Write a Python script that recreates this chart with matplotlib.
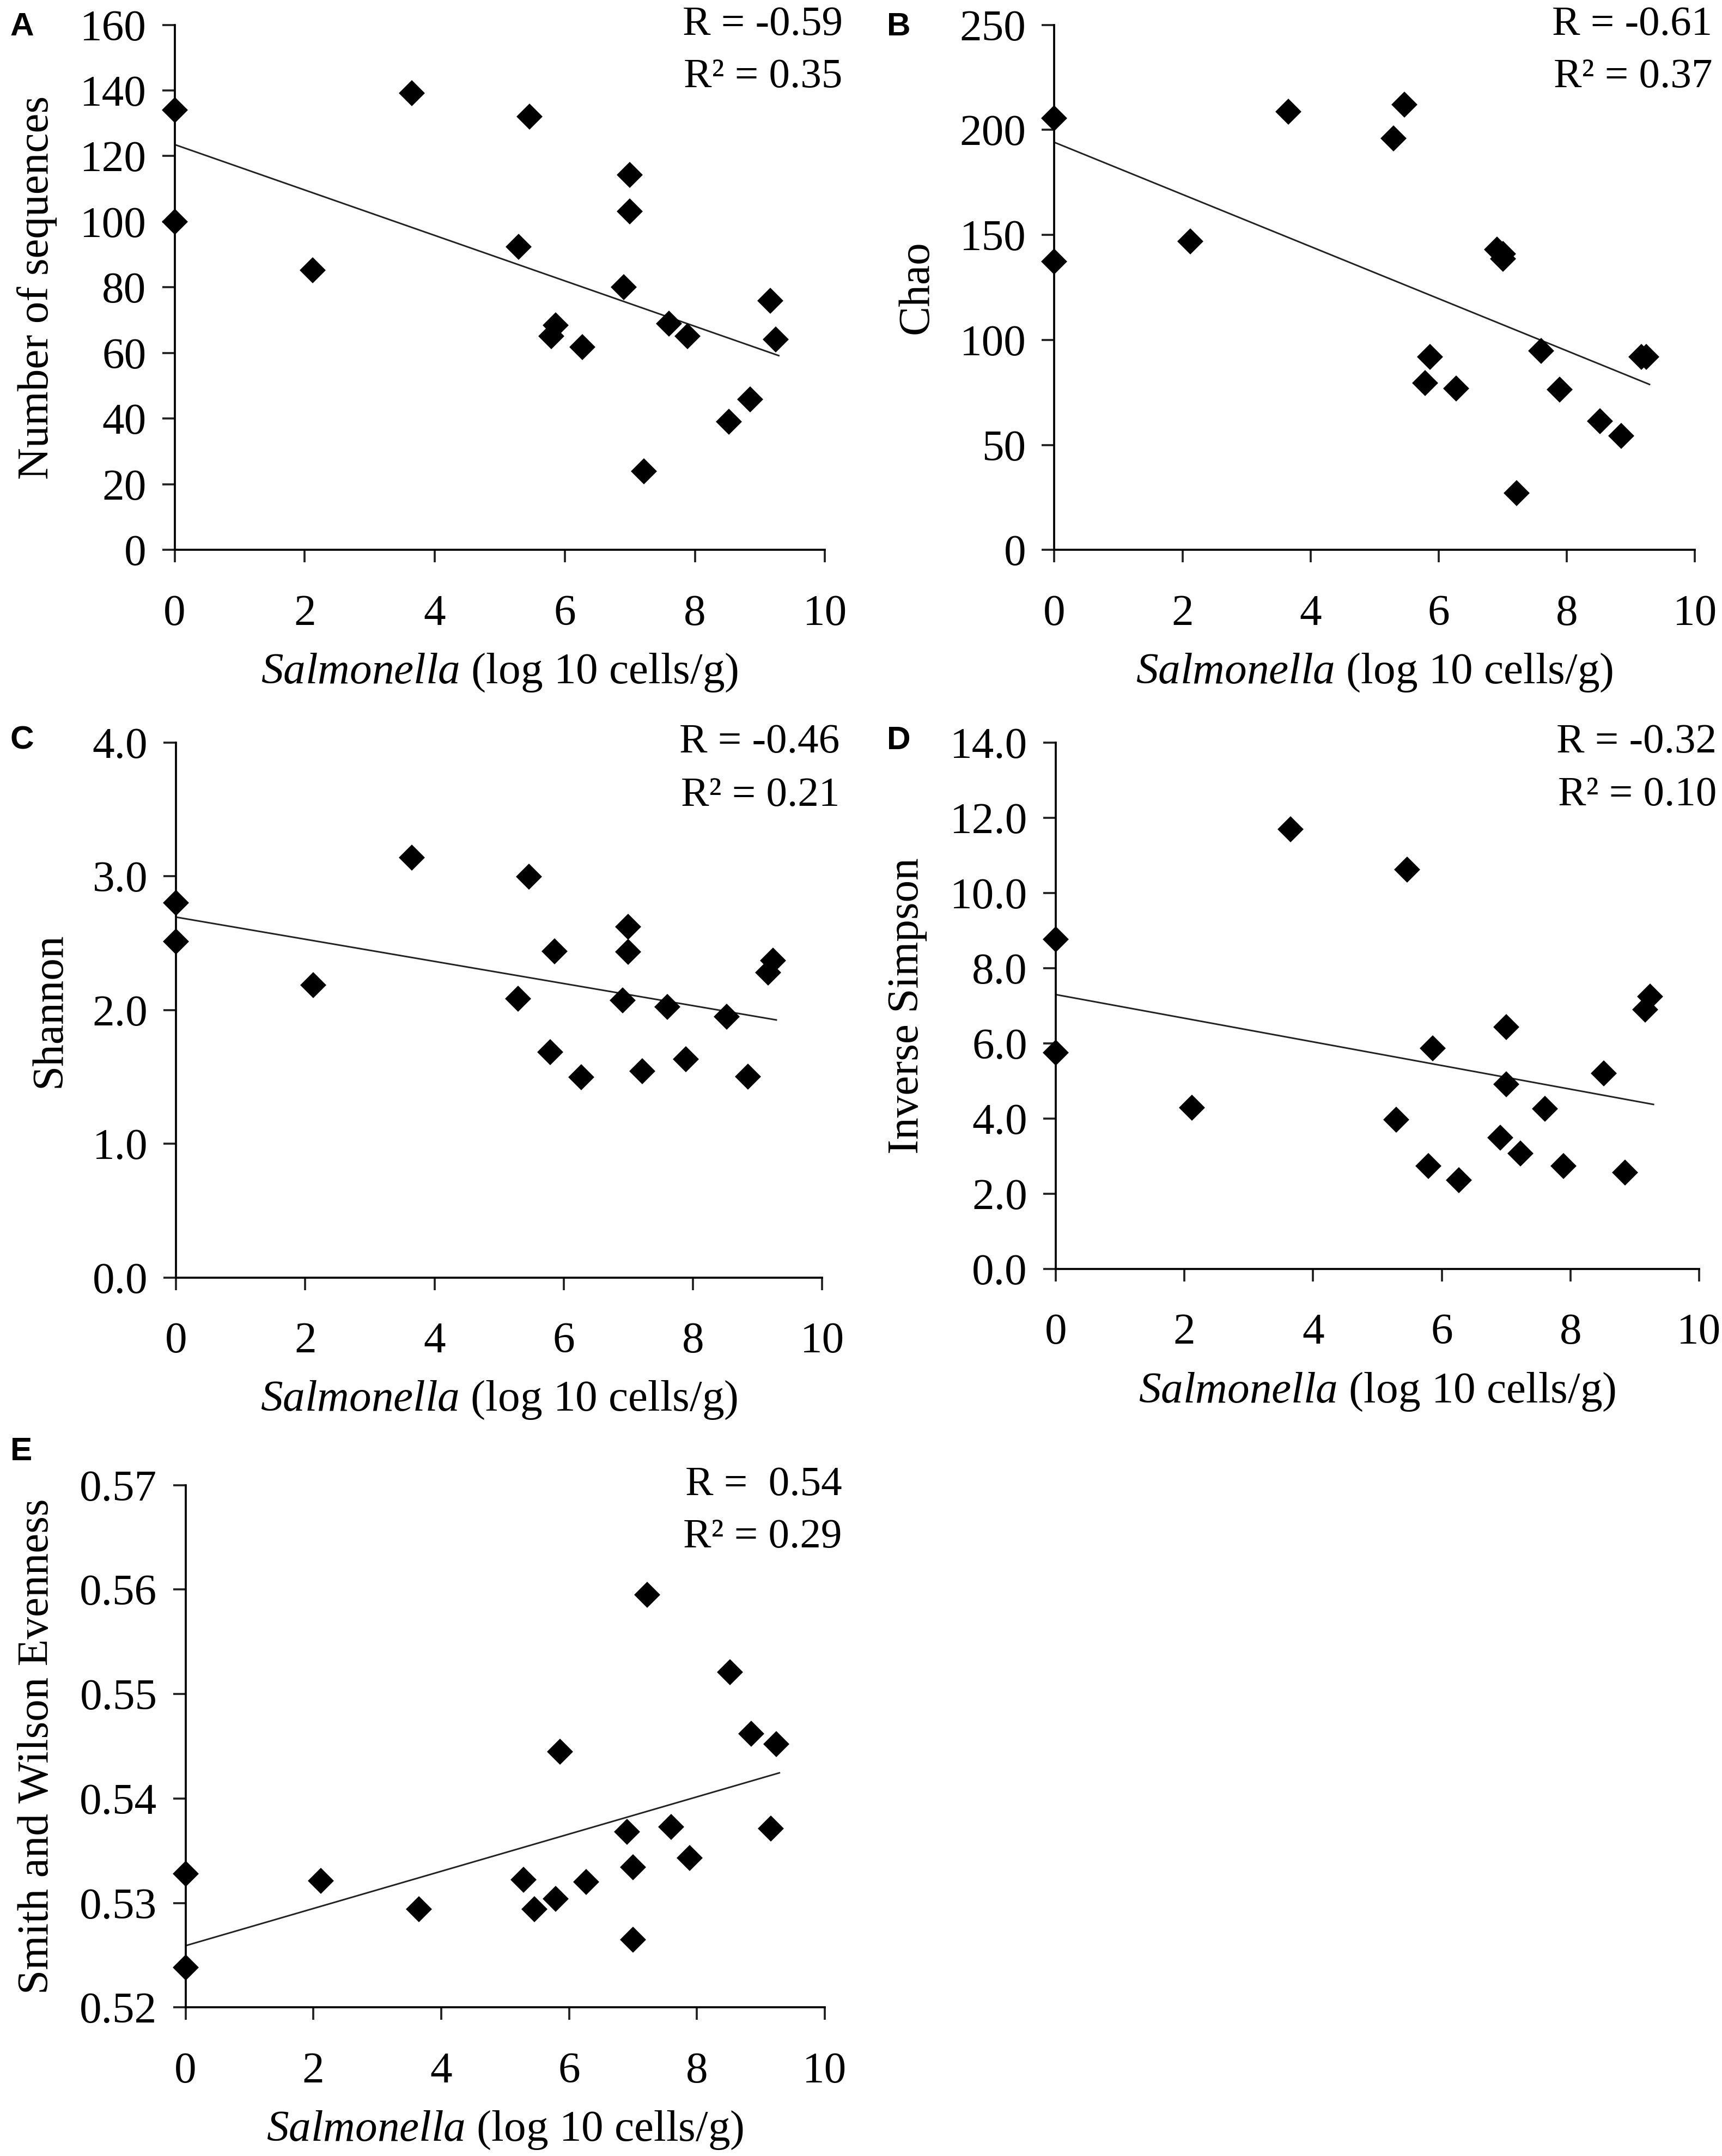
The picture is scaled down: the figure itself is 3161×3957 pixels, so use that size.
import numpy as np
import matplotlib.pyplot as plt
from matplotlib.ticker import FormatStrFormatter

plt.rcParams['font.family'] = ['Liberation Serif', 'DejaVu Serif']
plt.rcParams['mathtext.fontset'] = 'custom'
plt.rcParams['mathtext.rm'] = 'Liberation Serif'
plt.rcParams['mathtext.it'] = 'Liberation Serif:italic'

# Salmonella load per sample (log10 cells/g)
salmonella = [0, 0, 2.12, 3.65, 5.29, 5.46, 5.79, 5.86, 6.27, 6.91, 7.0, 7.0,
              7.22, 7.6, 7.89, 8.52, 8.85, 9.16, 9.24]

n_sequences = [134, 100, 85.3, 139.2, 92.3, 132, 65.2, 68.4, 61.9, 80.1, 114.2,
               103.2, 23.9, 69, 65.2, 39, 45.9, 76, 64.1]
chao = [205.5, 137.4, 147, 208.7, 195.8, 211.9, 79.6, 91.8, 76.8, 143, 141,
        138.5, 27.2, 94.8, 76.4, 61.4, 54.2, 92, 92]
shannon = [2.80, 2.51, 2.185, 3.14, 2.086, 2.995, 1.684, 2.44, 1.496, 2.072,
           2.624, 2.436, 1.544, 2.024, 1.633, 1.949, 1.503, 2.281, 2.37]
inv_simpson = [8.77, 5.75, 4.285, 11.69, 3.97, 10.62, 2.74, 5.87, 2.36, 3.49,
               6.43, 4.92, 3.07, 4.26, 2.74, 5.20, 2.56, 6.90, 7.24]
evenness = [0.5328, 0.5238, 0.5321, 0.5294, 0.5322, 0.5294, 0.5304, 0.5445,
            0.5320, 0.5368, 0.5334, 0.5265, 0.5595, 0.5373, 0.5343, 0.5521,
            0.5462, 0.5371, 0.5452]

panels = [
    # letter, y values, ylabel, ylim, ystep, fmt, R text, R2 text
    ('A', n_sequences, 'Number of sequences', (0, 160), 20, '%d', 'R = -0.59', 'R\u00b2 = 0.35'),
    ('B', chao, 'Chao', (0, 250), 50, '%d', 'R = -0.61', 'R\u00b2 = 0.37'),
    ('C', shannon, 'Shannon', (0, 4), 1, '%.1f', 'R = -0.46', 'R\u00b2 = 0.21'),
    ('D', inv_simpson, 'Inverse Simpson', (0, 14), 2, '%.1f', 'R = -0.32', 'R\u00b2 = 0.10'),
    ('E', evenness, 'Smith and Wilson Evenness', (0.52, 0.57), 0.01, '%.2f', 'R =  0.54', 'R\u00b2 = 0.29'),
]

# axes rectangles in figure fractions (left, bottom, width, height)
rects = [
    (0.1014, 0.7449, 0.3775, 0.2436),
    (0.6121, 0.7449, 0.3719, 0.2436),
    (0.1022, 0.4075, 0.3751, 0.2481),
    (0.6129, 0.4114, 0.3735, 0.2442),
    (0.1077, 0.0689, 0.3711, 0.2423),
]
letter_pos = [(0.006, 0.9945), (0.515, 0.9945), (0.006, 0.6635), (0.515, 0.6635), (0.006, 0.3335)]

fig = plt.figure(figsize=(3162 / 300, 3957 / 300), dpi=300)
x = np.array(salmonella)

for (letter, yv, ylab, ylim, ystep, fmt, rtxt, r2txt), rect, lp in zip(panels, rects, letter_pos):
    ax = fig.add_axes(rect)
    y = np.array(yv)
    ax.plot(x, y, 'D', color='black', ms=7, clip_on=False, zorder=3)
    k, b = np.polyfit(x, y, 1)
    xl = np.array([x.min(), x.max() + 0.05])
    ax.plot(xl, k * xl + b, color='#222222', lw=0.7, zorder=2)

    ax.set_xlim(0, 10)
    ax.set_ylim(*ylim)
    ax.set_xticks(np.arange(0, 11, 2))
    ax.set_yticks(np.arange(ylim[0], ylim[1] + ystep / 2, ystep))
    ax.yaxis.set_major_formatter(FormatStrFormatter(fmt))
    for s in ('top', 'right'):
        ax.spines[s].set_visible(False)
    for s in ('left', 'bottom'):
        ax.spines[s].set_linewidth(0.9)
    ax.tick_params(axis='both', direction='out', length=5.5, width=0.9, labelsize=19.5, color='#222222')
    ax.tick_params(axis='x', pad=14)
    ax.tick_params(axis='y', pad=7)
    ax.set_ylabel(ylab, fontsize=19.5, labelpad=10)
    ax.set_xlabel(r'$\mathit{Salmonella}$ (log 10 cells/g)', fontsize=19.5, labelpad=8)

    ax.text(1.027, 1.0, rtxt, transform=ax.transAxes, ha='right', va='center', fontsize=18.5)
    ax.text(1.027, 0.9, r2txt, transform=ax.transAxes, ha='right', va='center', fontsize=18.5)

    fig.text(lp[0], lp[1], letter, ha='left', va='top', fontsize=14.5, fontweight='bold',
             family='Liberation Sans')

fig.savefig('out.png', dpi=300)
